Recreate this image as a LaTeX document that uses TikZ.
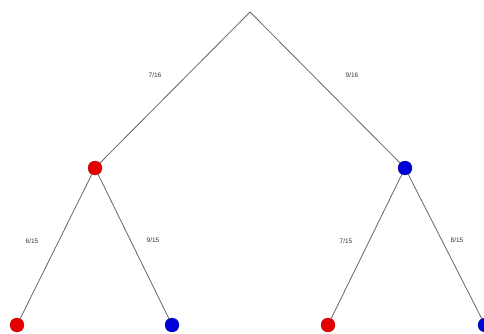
\documentclass[tikz,border=0pt]{standalone}
\usepackage{fontspec}
\setmainfont{Liberation Sans}
\begin{document}
\begin{tikzpicture}[x=1pt,y=-1pt,
  edge/.style={draw=black!60, line width=0.8pt},
  reddot/.style={circle, fill=red!90!black, draw=red!70!black, line width=0.3pt, minimum size=14pt, inner sep=0pt},
  bluedot/.style={circle, fill=blue!85!black, draw=blue!60!black, line width=0.3pt, minimum size=14pt, inner sep=0pt},
  prob/.style={font=\fontsize{6.5}{7}\selectfont, text=black!80, inner sep=0pt}]
\useasboundingbox (0,0) rectangle (484,334);
\coordinate (root) at (250,12);
\node[reddot] (r) at (95,168) {};
\node[bluedot] (b) at (405,168) {};
\node[reddot] (rr) at (17,325) {};
\node[bluedot] (rb) at (172,325) {};
\node[reddot] (br) at (328,325) {};
\node[bluedot] (bb) at (485,325) {};
\draw[edge] (root) -- (r);
\draw[edge] (root) -- (b);
\draw[edge] (r) -- (rr);
\draw[edge] (r) -- (rb);
\draw[edge] (b) -- (br);
\draw[edge] (b) -- (bb);
\node[prob] (l1) at (155,75) {7/16};
\node[prob] (l2) at (352,75) {9/16};
\node[prob] (l3) at (32,241) {6/15};
\node[prob] (l4) at (153,240) {9/15};
\node[prob] (l5) at (346,241) {7/15};
\node[prob] (l6) at (457,240) {8/15};
\end{tikzpicture}
\end{document}
